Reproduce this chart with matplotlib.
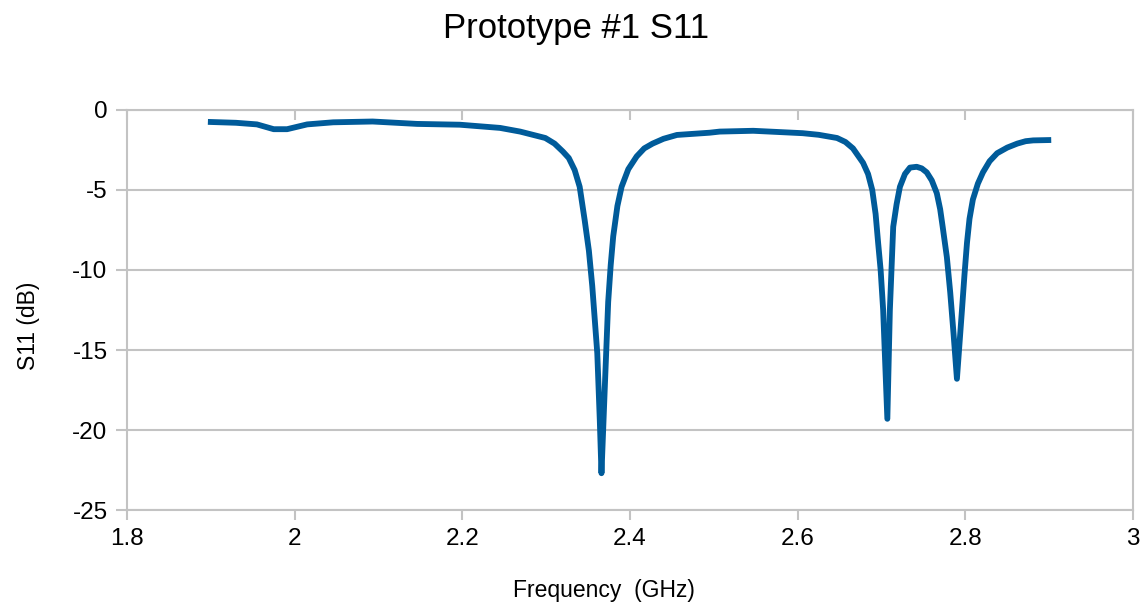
import numpy as np
import matplotlib.pyplot as plt

plt.rcParams['font.family'] = ['Liberation Sans', 'DejaVu Sans']
plt.rcParams['axes.unicode_minus'] = False

# S11 data (GHz, dB)
freq = [1.900, 1.930, 1.955, 1.965, 1.975, 1.991, 2.015, 2.046, 2.093, 2.146,
        2.197, 2.245, 2.269, 2.299, 2.310, 2.320, 2.327, 2.334, 2.340, 2.346,
        2.351, 2.355, 2.361, 2.364, 2.366, 2.370, 2.374, 2.377, 2.380, 2.385,
        2.390, 2.398, 2.408, 2.417, 2.427, 2.440, 2.456, 2.495, 2.507, 2.547,
        2.606, 2.625, 2.647, 2.657, 2.666, 2.678, 2.684, 2.689, 2.693, 2.696,
        2.699, 2.702, 2.707, 2.710, 2.714, 2.718, 2.722, 2.728, 2.734, 2.742,
        2.748, 2.754, 2.760, 2.766, 2.770, 2.773, 2.778, 2.782, 2.786, 2.790,
        2.796, 2.799, 2.802, 2.805, 2.809, 2.815, 2.821, 2.829, 2.838, 2.850,
        2.862, 2.872, 2.881, 2.899]
s11 = [-0.75, -0.80, -0.90, -1.05, -1.20, -1.20, -0.90, -0.77, -0.72, -0.87,
       -0.92, -1.12, -1.35, -1.75, -2.10, -2.60, -3.00, -3.75, -4.80, -6.90,
       -8.80, -11.0, -15.2, -19.4, -22.7, -17.3, -12.0, -9.70, -7.90, -6.00,
       -4.80, -3.70, -2.90, -2.40, -2.10, -1.80, -1.56, -1.42, -1.35, -1.30,
       -1.45, -1.55, -1.75, -2.00, -2.40, -3.30, -4.00, -5.00, -6.50, -8.30,
       -10.0, -12.5, -19.3, -12.5, -7.30, -5.90, -4.80, -4.00, -3.60, -3.55,
       -3.65, -3.90, -4.40, -5.20, -6.20, -7.30, -9.20, -11.4, -14.0, -16.8,
       -12.5, -10.3, -8.30, -6.80, -5.60, -4.60, -3.90, -3.20, -2.70, -2.35,
       -2.10, -1.95, -1.90, -1.88]

xticks = [1.8, 2.0, 2.2, 2.4, 2.6, 2.8, 3.0]
xlabels = ['1.8', '2', '2.2', '2.4', '2.6', '2.8', '3']
yticks = [0, -5, -10, -15, -20, -25]

grey = '#c3c3c3'

fig = plt.figure(figsize=(11.45, 6.06), dpi=100)
ax = fig.add_axes([0.1109, 0.1584, 0.8786, 0.6601])

ax.plot(freq, s11, color='#005b9a', lw=4.2, solid_joinstyle='round', zorder=3)

ax.set_xlim(1.8, 3.0)
ax.set_ylim(-25, 0)
ax.set_xticks(xticks)
ax.set_xticklabels(xlabels)
ax.set_yticks(yticks)
ax.grid(axis='y', color=grey, lw=1.5)
ax.set_axisbelow(True)

for sp in ax.spines.values():
    sp.set_color(grey)
    sp.set_linewidth(1.5)

ax.tick_params(axis='x', which='both', bottom=True, top=True, length=7,
               width=1.5, color=grey, labelsize=17.5, pad=6)
ax.xaxis.set_tick_params(which='major', direction='out')
for t in ax.xaxis.get_major_ticks():
    t.tick2line.set_marker(3)  # tick pointing down from the top spine
    t.tick2line.set_markersize(7)
ax.tick_params(axis='y', length=8, width=1.5, color=grey, labelsize=17.5, pad=6)

fig.text(0.503, 0.953, 'Prototype #1 S11', fontsize=25, ha='center', va='center')
ax.set_xlabel('Frequency  (GHz)', fontsize=16.5, va='center')
ax.xaxis.set_label_coords(0.474, -0.2)
ax.set_ylabel('S11 (dB)', fontsize=16.5, va='center')
ax.yaxis.set_label_coords(-0.098, 0.46)

fig.savefig('out.png', dpi=100)
